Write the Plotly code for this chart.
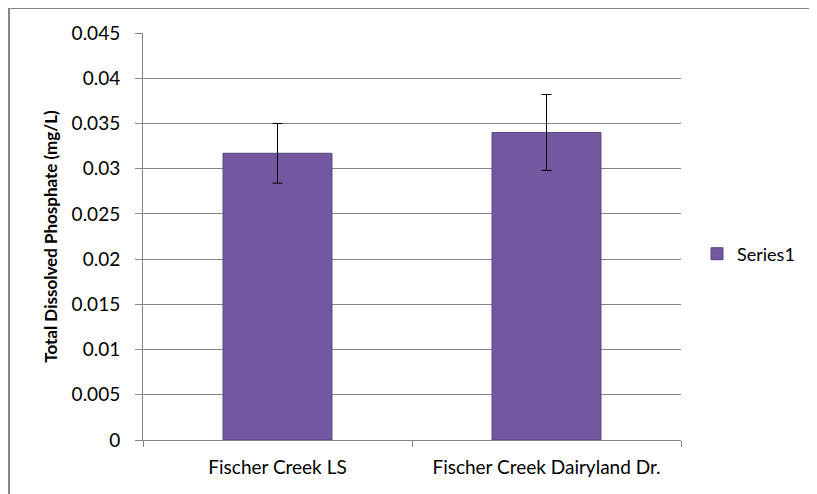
import plotly.graph_objects as go

categories = ["Fischer Creek LS", "Fischer Creek Dairyland Dr."]
values = [0.0317, 0.0340]
errors = [0.0033, 0.0042]
series_name = "Series1"
y_ticks = [0, 0.005, 0.01, 0.015, 0.02, 0.025, 0.03, 0.035, 0.04, 0.045]
y_tick_labels = ["0", "0.005", "0.01", "0.015", "0.02", "0.025", "0.03", "0.035", "0.04", "0.045"]

# page body has an 8px margin, so the figure is shrunk by 8px
W, H = 809, 486
L, R, T, B = 135, 136, 25, 54
pw, ph = W - L - R, H - T - B

fig = go.Figure()
fig.add_trace(go.Bar(
    x=categories, y=values, name=series_name,
    marker=dict(color="#7357a1", line=dict(color="#5a4380", width=1)),
    error_y=dict(type="data", array=errors, visible=True, color="#000000", thickness=1, width=5),
    showlegend=True,
))

fig.update_layout(
    width=W, height=H,
    margin=dict(l=L, r=R, t=T, b=B, autoexpand=False),
    paper_bgcolor="white", plot_bgcolor="white",
    font=dict(family="Lato, Open Sans, sans-serif", size=19, color="#000000"),
    bargap=0.595,
    showlegend=True,
    legend=dict(x=(689 - L) / pw, y=(440 - 254) / ph, xanchor="left", yanchor="middle",
                font=dict(size=18), itemwidth=30, bgcolor="rgba(0,0,0,0)"),
    xaxis=dict(showline=True, linecolor="#868686", linewidth=1, ticks="outside",
               tickson="boundaries", ticklen=6, tickcolor="#868686",
               showgrid=False, tickfont=dict(size=19), ticklabelstandoff=10,
               automargin=False),
    yaxis=dict(range=[0, 0.045], tickvals=y_ticks, ticktext=y_tick_labels,
               showline=True, linecolor="#868686", linewidth=1, ticks="outside",
               ticklen=7, tickcolor="#868686", showgrid=True, gridcolor="#868686",
               gridwidth=1, zeroline=False, tickfont=dict(size=19), ticklabelstandoff=11,
               automargin=False,
               title=dict(text="<b>Total Dissolved Phosphate (mg/L)</b>", font=dict(size=17), standoff=9)),
    shapes=[
        dict(type="line", xref="paper", yref="paper",
             x0=-L / pw + 1 / pw, x1=-L / pw + 1 / pw,
             y0=-(B + 5) / ph, y1=1 + (T + 1) / ph,
             line=dict(color="#868686", width=2), layer="below"),
        dict(type="line", xref="paper", yref="paper",
             x0=-L / pw + 1 / pw, x1=(W + 5 - L) / pw,
             y0=1 + (T + 0) / ph, y1=1 + (T + 0) / ph,
             line=dict(color="#868686", width=2), layer="below"),
    ],
)

fig.write_html("out.html")
